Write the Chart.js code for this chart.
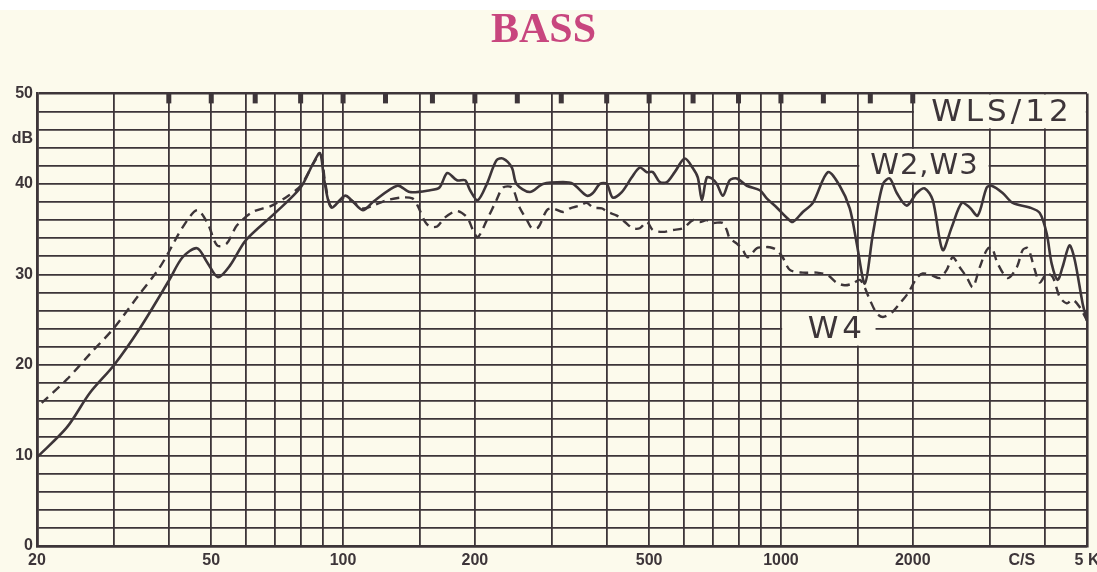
<!DOCTYPE html>
<html>
<head>
<meta charset="utf-8">
<script src="https://cdn.jsdelivr.net/npm/chart.js@4/dist/chart.umd.min.js"></script>
<style>
  html, body { margin: 0; padding: 0; background: #fcfaec; }
  canvas { display: block; }
</style>
</head>
<body>
<canvas id="bass-chart" width="1097" height="572"></canvas>
<script>
// W2,W3 (solid)
const solidFreq = [20, 23.4, 26.4, 30, 34.3, 40, 43, 46.4, 49, 51.8, 55.2, 60, 70, 80, 85.5, 88.6, 90.6, 94, 101, 104.6, 111, 117, 133, 142, 158, 166, 173, 182, 190, 195, 203, 213, 224, 232, 243, 249, 267, 286, 318, 335, 360, 372, 386, 400, 413, 433, 456, 476, 494, 510, 529, 549, 572, 603, 630, 646, 660, 677, 695, 714, 737, 764, 793, 836, 895, 928, 978, 1030, 1064, 1122, 1183, 1280, 1362, 1436, 1490, 1555, 1622, 1710, 1772, 1839, 1938, 2043, 2131, 2222, 2340, 2454, 2588, 2698, 2814, 2951, 3028, 3209, 3383, 3698, 3899, 4046, 4152, 4286, 4396, 4560, 4688, 4886, 5000];
const solidDb = [9.8, 13.1, 16.9, 20, 24, 29.3, 31.9, 32.9, 31.3, 29.7, 31, 33.8, 36.8, 39.6, 42.3, 43.4, 40.4, 37.4, 38.7, 38.2, 37.1, 38, 39.8, 39.1, 39.3, 39.6, 41.2, 40.4, 40.4, 39.3, 38.2, 40, 42.6, 42.8, 41.8, 40, 39.1, 40, 40.2, 40, 38.7, 39, 40, 40, 38.5, 39.1, 40.7, 41.8, 41.3, 41.3, 40.2, 40.2, 41.3, 42.8, 41.7, 40.7, 38.2, 40.7, 40.6, 40, 38.7, 40.4, 40.6, 39.8, 39.3, 38.4, 37.4, 36.3, 35.8, 36.9, 37.9, 41.3, 39.8, 37.3, 33.4, 29, 34.5, 40, 40.6, 39, 37.6, 39, 39.5, 38.2, 32.7, 35.2, 37.9, 37.4, 36.5, 39.6, 39.8, 39, 37.9, 37.4, 36.8, 34.5, 31.2, 29.4, 30.8, 33.2, 31.6, 26.8, 24.9];

// W4 (dashed)
const dashFreq = [20.5, 23.4, 26.4, 30, 34, 37.8, 39.6, 43, 46.4, 49, 51.6, 54.2, 57.2, 62.2, 68.7, 75, 80, 88.6, 91, 94, 101, 111, 117, 126, 136, 144, 148, 154, 158, 164, 171, 182, 192, 198, 203, 213, 224, 232, 243, 253, 263, 270, 279, 292, 301, 318, 330, 347, 360, 372, 390, 402, 422, 440, 459, 476, 494, 510, 537, 566, 597, 630, 653, 677, 698, 737, 752, 764, 793, 818, 840, 881, 909, 943, 978, 1009, 1048, 1122, 1208, 1280, 1340, 1399, 1459, 1514, 1555, 1596, 1655, 1710, 1791, 1868, 1949, 2043, 2108, 2210, 2305, 2391, 2468, 2560, 2656, 2742, 2845, 2951, 3028, 3126, 3296, 3457, 3566, 3664, 3800, 3899, 4046, 4177, 4332, 4496, 4638, 4810, 5000];
const dashDb = [15.8, 18.4, 21.2, 24.1, 27.6, 30.5, 32.1, 35.2, 37.1, 35.7, 33.2, 33.4, 35.4, 36.9, 37.6, 38.7, 39.8, 43.2, 40.2, 37.5, 38.5, 37.3, 37.6, 38.2, 38.5, 38.4, 37.6, 35.8, 35.3, 35.3, 36.3, 37, 36.3, 34.9, 34.1, 36, 38.2, 39.6, 39.6, 37.4, 36, 35.1, 35.2, 37.1, 37.3, 36.9, 37.3, 37.6, 37.9, 37.4, 37.3, 36.9, 36.5, 35.8, 35.1, 35.1, 35.8, 34.9, 34.7, 34.9, 35.1, 36, 35.8, 36, 35.7, 35.7, 34.9, 34, 33.4, 32.7, 31.9, 32.9, 33, 33, 32.7, 31.9, 30.5, 30.2, 30.2, 29.9, 29.1, 28.8, 29, 29.4, 28.5, 27.2, 25.7, 25.3, 25.8, 26.8, 27.9, 29.6, 30.1, 29.9, 29.6, 30.5, 31.9, 30.8, 29.7, 28.6, 30.8, 32.7, 33, 31.2, 29.6, 30.8, 32.7, 32.9, 30.5, 29.1, 30.1, 29.7, 27.5, 26.8, 27.2, 26.4, 24.9];

// axes
const xGridValues = [20, 30, 40, 50, 60, 70, 80, 90, 100, 150, 200, 300, 400, 500, 600, 700, 800, 900, 1000, 1500, 2000, 3000, 4000, 5000];
const xLabels = { 20: "20", 50: "50", 100: "100", 200: "200", 500: "500", 1000: "1000", 2000: "2000", 3550: "C/S", 5000: "5 K" };
const yGridValues = [0, 2, 4, 6, 8, 10, 12, 14, 16, 18, 20, 22, 24, 26, 28, 30, 32, 34, 36, 38, 40, 42, 44, 45, 46, 48, 50];
const yLabels = { 0: "0", 10: "10", 20: "20", 30: "30", 40: "40", 45: "dB", 50: "50" };
const markerFreq = [40, 50, 63, 80, 100, 125, 160, 200, 250, 315, 400, 500, 630, 800, 1000, 1250, 1600, 2000];

const ink = "#3d3539";
const paper = "#fcfaec";

const toPoints = (fs, vs) => fs.map((f, i) => ({ x: f, y: vs[i] }));

const chartPaper = {
    id: "chartPaper",
    beforeDraw(chart) {
        const c = chart.ctx;
        c.save();
        c.fillStyle = paper;
        c.fillRect(0, 0, chart.width, chart.height);
        c.fillStyle = "#ffffff";
        c.fillRect(0, 0, chart.width, 10);
        c.restore();
    },
    beforeDatasetsDraw(chart) {
        const c = chart.ctx, x = chart.scales.x, y = chart.scales.y;
        // label boxes cut out of the grid
        const boxes = [
            { text: "WLS/12", f: [2000, 5000], d: [46, 50], size: 31, sp: 4, dx: 0 },
            { text: "W2,W3", f: [1500, 3000], d: [40, 44], size: 29, sp: 1, dx: 0 },
            { text: "W4", f: [1000, 1655], d: [22, 26], size: 31, sp: 4, dx: 6 }
        ];
        c.save();
        boxes.forEach(b => {
            const x0 = x.getPixelForValue(b.f[0]) + 1.2, x1 = x.getPixelForValue(b.f[1]) - 1.2;
            const y0 = y.getPixelForValue(b.d[1]) + 1.2, y1 = y.getPixelForValue(b.d[0]) - 1.2;
            c.fillStyle = paper;
            c.fillRect(x0, y0, x1 - x0, y1 - y0);
            c.fillStyle = ink;
            c.font = b.size + 'px "DejaVu Sans", sans-serif';
            c.letterSpacing = b.sp + "px";
            c.textAlign = "center";
            c.textBaseline = "middle";
            c.fillText(b.text, (x0 + x1) / 2 + b.dx + b.sp / 2, (y0 + y1) / 2 + 1);
        });
        c.letterSpacing = "0px";
        // small markers hanging from the top frame
        c.fillStyle = ink;
        markerFreq.forEach(f => {
            const px = x.getPixelForValue(f);
            c.fillRect(px - 2.5, chart.chartArea.top, 5, 10);
        });
        c.restore();
    }
};

new Chart(document.getElementById("bass-chart"), {
    type: "line",
    data: {
        datasets: [
            {
                label: "W2,W3",
                data: toPoints(solidFreq, solidDb),
                borderColor: ink,
                borderWidth: 2.6,
                pointRadius: 0,
                tension: 0.3
            },
            {
                label: "W4",
                data: toPoints(dashFreq, dashDb),
                borderColor: ink,
                borderWidth: 2.4,
                borderDash: [9, 6],
                pointRadius: 0,
                tension: 0.3
            }
        ]
    },
    options: {
        responsive: false,
        animation: false,
        layout: { padding: { left: 0, right: 10, top: 0, bottom: 0 } },
        plugins: {
            legend: { display: false },
            tooltip: { enabled: false },
            title: {
                display: true,
                text: "BASS",
                color: "#c8467e",
                font: { family: '"Liberation Serif", serif', size: 42, weight: "bold" },
                padding: { top: 6, bottom: 37 }
            }
        },
        scales: {
            x: {
                type: "logarithmic",
                min: 20,
                max: 5000,
                afterBuildTicks: s => { s.ticks = xGridValues.concat([3550]).sort((a, b) => a - b).map(v => ({ value: v })); },
                afterFit: s => { s.height = 26; s.paddingLeft = 0; s.paddingRight = 0; },
                ticks: {
                    autoSkip: false,
                    maxRotation: 0,
                    padding: 5,
                    color: ink,
                    font: { family: '"Liberation Sans", sans-serif', size: 16, weight: "bold" },
                    callback: v => xLabels[v] || ""
                },
                grid: {
                    drawTicks: false,
                    color: c => (c.tick && c.tick.value === 3550) ? "rgba(0,0,0,0)" : ink,
                    lineWidth: c => (c.tick && (c.tick.value === 20 || c.tick.value === 5000)) ? 2.6 : 1.8
                },
                border: { display: true, color: ink, width: 2.6 }
            },
            y: {
                min: 0,
                max: 50,
                afterBuildTicks: s => { s.ticks = yGridValues.map(v => ({ value: v })); },
                afterFit: s => { s.width = 37; },
                ticks: {
                    autoSkip: false,
                    padding: 4,
                    color: ink,
                    font: { family: '"Liberation Sans", sans-serif', size: 16, weight: "bold" },
                    callback: v => yLabels[v] || ""
                },
                grid: {
                    drawTicks: false,
                    color: c => (c.tick && c.tick.value === 45) ? "rgba(0,0,0,0)" : ink,
                    lineWidth: c => (c.tick && (c.tick.value === 0 || c.tick.value === 50)) ? 2.6 : 1.8
                },
                border: { display: true, color: ink, width: 2.6 }
            }
        }
    },
    plugins: [chartPaper]
});
</script>
</body>
</html>
